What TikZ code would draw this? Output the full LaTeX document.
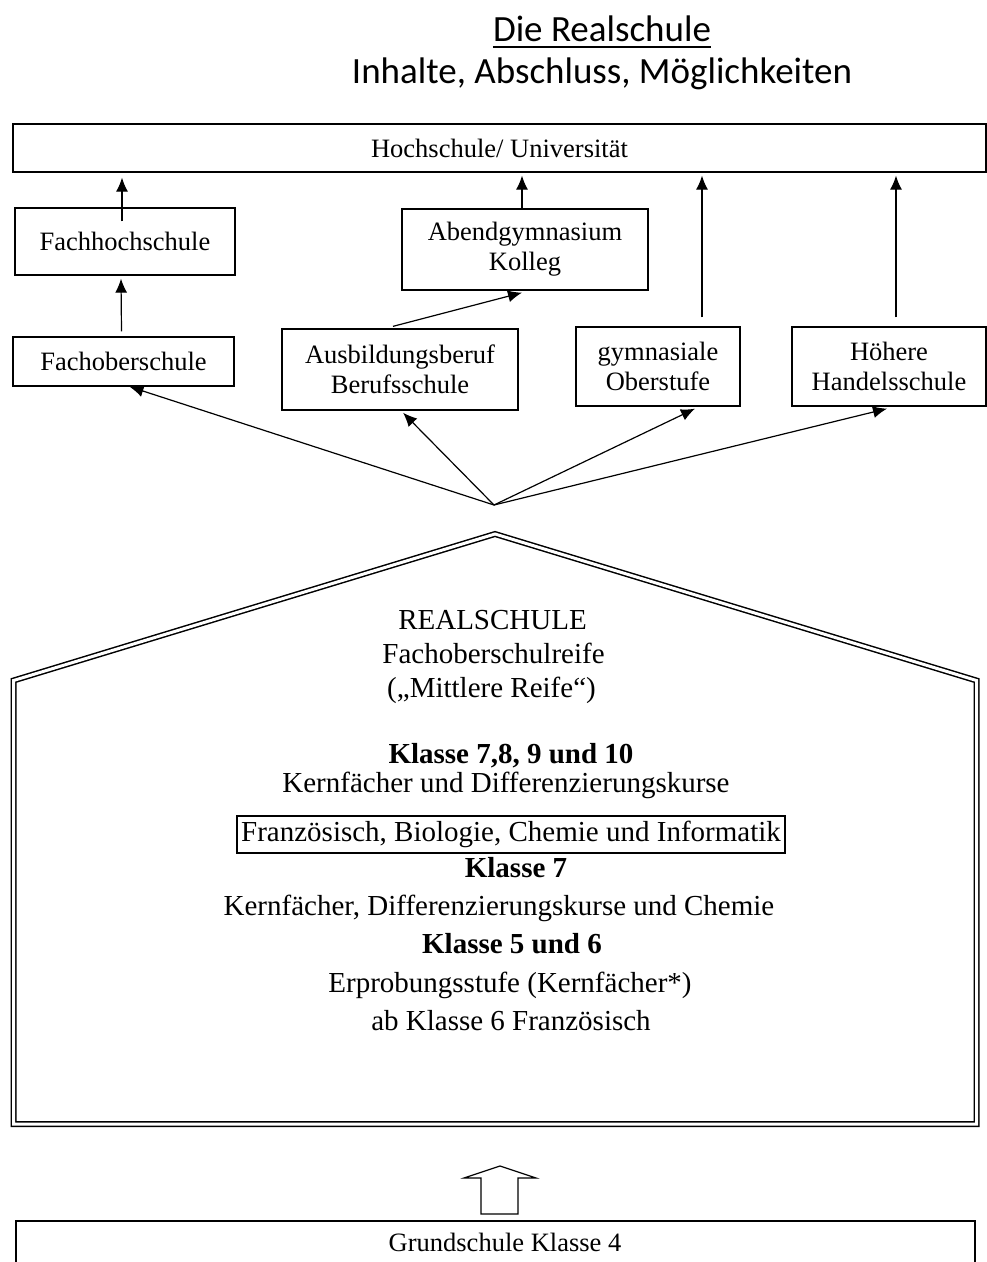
\documentclass[tikz,border=0pt]{standalone}
\usepackage{fontspec}
\setmainfont{Liberation Serif}
\newfontfamily\titelschrift{Carlito}
\newcommand\kastenschrift{\fontsize{26.5}{30}\selectfont}
\newcommand\hausschrift{\fontsize{29}{34}\selectfont}
\usetikzlibrary{arrows.meta,calc}

\begin{document}
\begin{tikzpicture}[x=1pt,y=-1pt,
    kasten/.style={draw,line width=1.3pt,inner sep=0pt,align=center,font=\kastenschrift},
    haustext/.style={anchor=base,inner sep=0pt,font=\hausschrift},
    pfeil/.style={-{Latex[length=14pt,width=12pt]},line width=1.2pt}]

        % =========================================================
        % Koordinaten in Pixeln, y zeigt nach unten
        % =========================================================
        \useasboundingbox (0,0) rectangle (987,1262);

        % ---------------------------------------------------------
        % Ueberschrift
        % ---------------------------------------------------------
        \node[anchor=base,inner sep=0pt,font={\titelschrift\fontsize{37}{44}\selectfont}]
            (titel) at (602,41) {Die Realschule};
        \draw[line width=1.8pt] ($(titel.base west)+(0,6)$) -- ($(titel.base east)+(0,6)$);
        \node[anchor=base,inner sep=0pt,font={\titelschrift\fontsize{37}{44}\selectfont}]
            (untertitel) at (602,83) {Inhalte, Abschluss, Möglichkeiten};

        % ---------------------------------------------------------
        % Kaesten oben
        % ---------------------------------------------------------
        \node[kasten,minimum width=973pt,minimum height=48pt] (hs) at (499.5,148) {Hochschule/ Universität};

        \node[kasten,minimum width=220pt,minimum height=67pt] (fhs) at (125,241.5) {Fachhochschule};
        \node[kasten,minimum width=246pt,minimum height=81pt] (abend) at (525,249.5) {Abendgymnasium\\Kolleg};

        \node[kasten,minimum width=221pt,minimum height=49pt] (fos) at (123.5,361.5) {Fachoberschule};
        \node[kasten,minimum width=236pt,minimum height=81pt] (ausb) at (400,369.5) {Ausbildungsberuf\\Berufsschule};
        \node[kasten,minimum width=164pt,minimum height=79pt] (gym) at (658,366.5) {gymnasiale\\Oberstufe};
        \node[kasten,minimum width=194pt,minimum height=79pt] (hhs) at (889,366.5) {Höhere\\Handelsschule};

        % Pfeile nach oben
        \draw[pfeil] ($(fhs.north)+(-3,14)$) -- ($(fhs.north |- hs.south)+(-3,5)$);
        \draw[pfeil] ($(fos.north)+(-2,-5)$) -- ($(fhs.south)+(-4,3)$);
        \draw[pfeil] ($(abend.north)+(-3,0)$) -- ($(abend.north |- hs.south)+(-3,3)$);
        \draw[pfeil] ($(ausb.north)+(-7,-2)$) -- ($(abend.south)+(-3,2)$);
        \draw[pfeil] ($(gym.north)+(44,-9)$) -- ($(gym.north |- hs.south)+(44,3)$);
        \draw[pfeil] ($(hhs.north)+(7,-9)$) -- ($(hhs.north |- hs.south)+(7,3)$);

        % ---------------------------------------------------------
        % Verzweigung ueber dem Haus
        % ---------------------------------------------------------
        \coordinate (fan) at (494,505);
        \draw[pfeil] (fan) -- ($(fos.south)+(6,0)$);
        \draw[pfeil] (fan) -- ($(ausb.south)+(3,2)$);
        \draw[pfeil] (fan) -- ($(gym.south)+(37,2)$);
        \draw[pfeil] (fan) -- ($(hhs.south)+(-2,2)$);

        % ---------------------------------------------------------
        % Haus (doppelte Linie)
        % ---------------------------------------------------------
        \draw[line width=1.5pt,double,double distance=3pt,line join=miter]
            (13.5,1124) -- (13.5,680.5) -- (495,534) -- (976.5,680.5) -- (976.5,1124) -- cycle;

        \node[haustext] (rs) at (492.5,629) {REALSCHULE};
        \node[haustext] (fosr) at (493.5,663) {Fachoberschulreife};
        \node[haustext] (mr) at (491.5,697) {(„Mittlere Reife“)};

        \node[haustext,font=\hausschrift\bfseries] (k710) at (511,763) {Klasse 7,8, 9 und 10};
        \node[haustext] (kd) at (506,792) {Kernfächer und Differenzierungskurse};
        \node[draw,line width=1.3pt,inner sep=0pt,minimum width=548pt,minimum height=37pt,font=\hausschrift]
            (wahl) at (511,834.5) {Französisch, Biologie, Chemie und Informatik};
        \node[haustext,font=\hausschrift\bfseries] (k7) at (516,877) {Klasse 7};
        \node[haustext] (kdc) at (499,915) {Kernfächer, Differenzierungskurse und Chemie};
        \node[haustext,font=\hausschrift\bfseries] (k56) at (512,953) {Klasse 5 und 6};
        \node[haustext] (erp) at (510,992) {Erprobungsstufe (Kernfächer*)};
        \node[haustext] (frz) at (511,1030) {ab Klasse 6 Französisch};

        % ---------------------------------------------------------
        % Blockpfeil und Grundschule
        % ---------------------------------------------------------
        \draw[line width=1.2pt]
            (481,1214) -- (481,1178) -- (464,1178) -- (500,1166) -- (536,1178) -- (518,1178) -- (518,1214) -- cycle;

        \draw[line width=1.3pt] (16,1290) -- (16,1221) -- (975,1221) -- (975,1290);
        \node[anchor=base,font=\kastenschrift] (gs) at (505,1251) {Grundschule Klasse 4};

\end{tikzpicture}
\end{document}
